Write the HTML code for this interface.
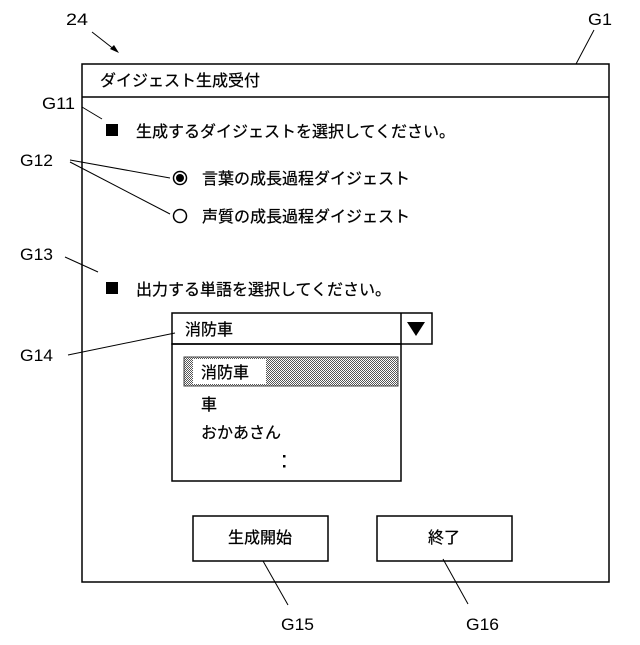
<!DOCTYPE html>
<html><head><meta charset="utf-8"><style>
body{margin:0;background:#fff}
svg text{font-family:"Liberation Sans","Noto Sans CJK JP",sans-serif;fill:#000}
</style></head><body>
<svg width="640" height="640" viewBox="0 0 640 640" xmlns="http://www.w3.org/2000/svg">
<defs>
<pattern id="chk" width="2" height="2" patternUnits="userSpaceOnUse">
<rect width="2" height="2" fill="#fff"/><rect width="1" height="1" fill="#555"/><rect x="1" y="1" width="1" height="1" fill="#555"/>
</pattern>
</defs>
<g font-size="17">
<text x="66" y="25" textLength="22" lengthAdjust="spacingAndGlyphs">24</text>
<text x="588" y="25" textLength="24" lengthAdjust="spacingAndGlyphs">G1</text>
<text x="42" y="109" textLength="33" lengthAdjust="spacingAndGlyphs">G11</text>
<text x="20" y="166" textLength="33" lengthAdjust="spacingAndGlyphs">G12</text>
<text x="20" y="260" textLength="33" lengthAdjust="spacingAndGlyphs">G13</text>
<text x="20" y="361" textLength="33" lengthAdjust="spacingAndGlyphs">G14</text>
<text x="281" y="630" textLength="33" lengthAdjust="spacingAndGlyphs">G15</text>
<text x="466" y="630" textLength="33" lengthAdjust="spacingAndGlyphs">G16</text>
</g>
<g stroke="#000" stroke-width="1" fill="none">
<line x1="92" y1="32" x2="115" y2="50"/>
<line x1="594" y1="30" x2="576" y2="64"/>
<line x1="82" y1="107" x2="102" y2="119"/>
<line x1="70" y1="160" x2="170" y2="178"/>
<line x1="70" y1="162" x2="170" y2="214"/>
<line x1="65" y1="257" x2="98" y2="272"/>
<line x1="68" y1="355" x2="175" y2="333"/>
<line x1="263" y1="561" x2="288" y2="605"/>
<line x1="443" y1="559" x2="468" y2="604"/>
</g>
<polygon points="119,53 110,49 114,45" fill="#000"/>
<rect x="82" y="64" width="527" height="518" fill="none" stroke="#000" stroke-width="1.5"/>
<line x1="82" y1="97" x2="609" y2="97" stroke="#000" stroke-width="1.5"/>
<g font-size="16" stroke="#000" stroke-width="0.25">
<text x="100" y="86">ダイジェスト生成受付</text>
<text x="136" y="137">生成するダイジェストを選択してください。</text>
<text x="202" y="184">言葉の成長過程ダイジェスト</text>
<text x="202" y="222">声質の成長過程ダイジェスト</text>
<text x="136" y="295">出力する単語を選択してください。</text>
</g>
<rect x="106" y="124" width="12" height="12" fill="#000"/>
<circle cx="180" cy="178" r="6.5" fill="none" stroke="#000" stroke-width="1.5"/>
<circle cx="180" cy="178" r="4" fill="#000"/>
<circle cx="180" cy="216" r="6.5" fill="none" stroke="#000" stroke-width="1.5"/>
<rect x="106" y="282" width="12" height="12" fill="#000"/>
<rect x="172" y="313" width="260" height="31" fill="none" stroke="#000" stroke-width="1.5"/>
<line x1="401" y1="313" x2="401" y2="344" stroke="#000" stroke-width="1.5"/>
<polygon points="407,322 425,322 416,336" fill="#000"/>
<rect x="172" y="344" width="229" height="137" fill="none" stroke="#000" stroke-width="1.5"/>
<rect x="184" y="357" width="214" height="29" fill="url(#chk)" stroke="#444"/>
<rect x="193" y="359" width="73" height="25" fill="#fff"/>
<g font-size="16" stroke="#000" stroke-width="0.25">
<text x="185" y="335">消防車</text>
<text x="201" y="378">消防車</text>
<text x="201" y="410">車</text>
<text x="201" y="438">おかあさん</text>
<text x="228" y="543">生成開始</text>
<text x="428" y="543">終了</text>
</g>
<rect x="283" y="455" width="2.5" height="2.5" fill="#000"/>
<rect x="283" y="465" width="2.5" height="2.5" fill="#000"/>
<rect x="193" y="516" width="135" height="45" fill="none" stroke="#000" stroke-width="1.5"/>
<rect x="377" y="516" width="135" height="45" fill="none" stroke="#000" stroke-width="1.5"/>
</svg>
</body></html>
